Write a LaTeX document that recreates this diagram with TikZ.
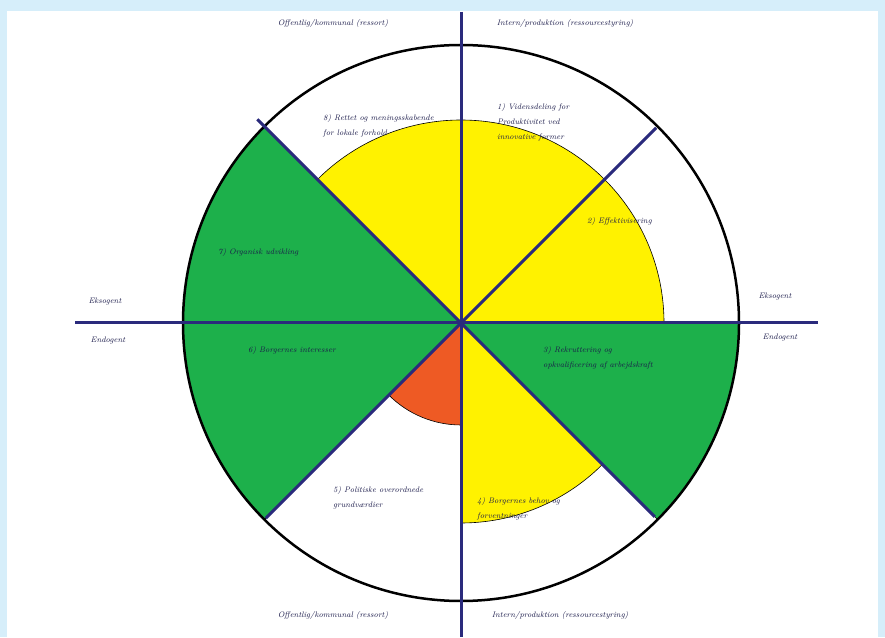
\documentclass[tikz,border=0pt]{standalone}
\definecolor{bgblue}{HTML}{D6EEFA}
\definecolor{navy}{HTML}{2A2A7C}
\definecolor{sgreen}{HTML}{1DB04B}
\definecolor{syellow}{HTML}{FFF200}
\definecolor{sorange}{HTML}{EE5A24}
\definecolor{txt}{HTML}{1A1A4A}
\begin{document}
\begin{tikzpicture}[x=1pt,y=1pt,
  axis/.style={navy,line width=3pt},
  lbl/.style={font=\fontsize{8}{15}\selectfont\itshape,text=txt,inner sep=0pt},
  sec/.style={draw=black,line width=0.6pt}]
\useasboundingbox (0,0) rectangle (885,637);
\fill[bgblue] (0,0) rectangle (885,637);
\fill[white] (7,0) rectangle (878,626);
\coordinate (C) at (461,314);
% sectors
\fill[sgreen,sec] (C) -- ++(135:278) arc[start angle=135,end angle=225,radius=278] -- cycle;
\fill[sgreen,sec] (C) -- ++(315:278) arc[start angle=315,end angle=360,radius=278] -- cycle;
\fill[syellow,sec] (C) -- ++(0:203) arc[start angle=0,end angle=135,radius=203] -- cycle;
\fill[syellow,sec] (C) -- ++(270:200) arc[start angle=270,end angle=315,radius=200] -- cycle;
\fill[sorange,sec] (C) -- ++(225:102) arc[start angle=225,end angle=270,radius=102] -- cycle;
% outer circle
\draw[black,line width=2.5pt] (C) circle[radius=278];
% axes
\coordinate (top) at (461,625);
\coordinate (bot) at (461,0);
\coordinate (lft) at (75,314);
\coordinate (rgt) at (818,314);
\path (C) ++(135:288) coordinate (ul);
\path (C) ++(45:276) coordinate (ur);
\path (C) ++(225:276) coordinate (ll);
\path (C) ++(315:274) coordinate (lr);
\draw[axis] (top) -- (bot);
\draw[axis] (lft) -- (rgt);
\draw[axis] (ul) -- (lr);
\draw[axis] (ur) -- (ll);
% outer labels
\node[lbl] (q1) at (333,613) {Offentlig/kommunal (ressort)};
\node[lbl] (q2) at (565,613) {Intern/produktion (ressourcestyring)};
\node[lbl] (q3) at (333,22) {Offentlig/kommunal (ressort)};
\node[lbl] (q4) at (560,22) {Intern/produktion (ressourcestyring)};
\node[lbl] (ekL) at (105,335) {Eksogent};
\node[lbl] (enL) at (108,296) {Endogent};
\node[lbl] (ekR) at (775,340) {Eksogent};
\node[lbl] (enR) at (780,299) {Endogent};
% sector labels (anchor = baseline of last line)
\node[lbl,anchor=base west,align=left] (s8) at (323,501) {8) Rettet og meningsskabende\\for lokale forhold};
\node[lbl,anchor=base west,align=left] (s1) at (497,497) {1) Vidensdeling for\\Produktivitet ved\\innovative former};
\node[lbl,anchor=base west] (s2) at (587,413) {2) Effektivisering};
\node[lbl,anchor=base west] (s7) at (218,382) {7) Organisk udvikling};
\node[lbl,anchor=base west] (s6) at (248,284) {6) Borgernes interesser};
\node[lbl,anchor=base west,align=left] (s3) at (543,269) {3) Rekruttering og\\opkvalificering af arbejdskraft};
\node[lbl,anchor=base west,align=left] (s5) at (333,129) {5) Politiske overordnede\\grundværdier};
\node[lbl,anchor=base west,align=left] (s4) at (477,119) {4) Borgernes behov og\\forventninger};
\end{tikzpicture}
\end{document}
